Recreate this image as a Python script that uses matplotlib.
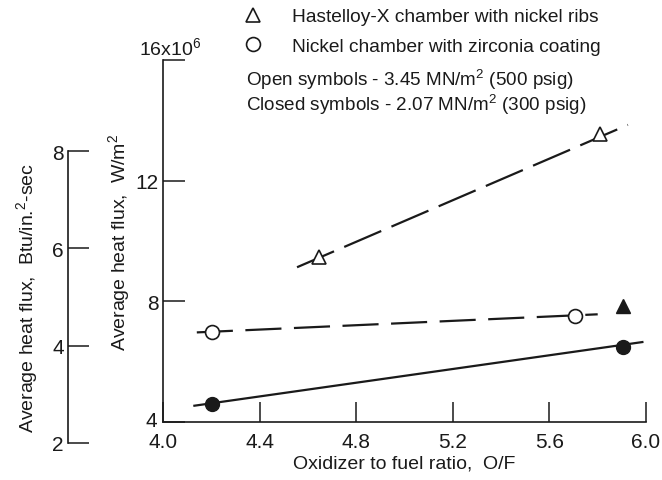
import matplotlib
matplotlib.use("Agg")
import matplotlib.pyplot as plt
import matplotlib.transforms as mtransforms
from matplotlib.lines import Line2D

# ---- data ----
of_ticks = [4.0, 4.4, 4.8, 5.2, 5.6, 6.0]
of_tick_labels = ["4.0", "4.4", "4.8", "5.2", "5.6", "6.0"]
si_ticks = [4, 8, 12, 16]
si_tick_labels = ["4", "8", "12", ""]
btu_ticks = [2, 4, 6, 8]
btu_tick_labels = ["2", "4", "6", "8"]

hast_open_x = [4.646, 5.81]
hast_open_y = [9.46, 13.54]
hast_fit_x = [4.555, 5.925]
hast_fit_y = [9.13, 13.85]
hast_closed_x = [5.905]
hast_closed_y = [7.84]

nick_open_x = [4.203, 5.706]
nick_open_y = [6.99, 7.51]
nick_open_fit_x = [4.14, 5.80]
nick_open_fit_y = [6.97, 7.57]
nick_closed_x = [4.203, 5.905]
nick_closed_y = [4.60, 6.49]
nick_closed_fit_x = [4.13, 5.985]
nick_closed_fit_y = [4.54, 6.65]

legend_labels = ["Hastelloy-X chamber with nickel ribs",
                 "Nickel chamber with zirconia coating"]
note_lines = ["Open symbols - 3.45 MN/m$^2$ (500 psig)",
              "Closed symbols - 2.07 MN/m$^2$ (300 psig)"]

# ---- fonts ----
plt.rcParams["font.family"] = ["Liberation Sans", "DejaVu Sans"]
plt.rcParams["mathtext.default"] = "regular"
plt.rcParams["lines.scale_dashes"] = False

INK = "#1a1a1a"
W, H = 662, 481
fig = plt.figure(figsize=(W / 100, H / 100), dpi=100)

def px_rect(x0, y_top, x1, y_bot):
    return [x0 / W, (H - y_bot) / H, (x1 - x0) / W, (y_bot - y_top) / H]

ax = fig.add_axes(px_rect(163, 61, 646, 423))
ax.set_xlim(4.0, 6.0)
ax.set_ylim(4, 16)
for s in ["top", "right"]:
    ax.spines[s].set_visible(False)
for s in ["left", "bottom"]:
    ax.spines[s].set_linewidth(1.2)
    ax.spines[s].set_color(INK)
ax.set_xticks(of_ticks)
ax.set_xticklabels(of_tick_labels)
ax.set_yticks(si_ticks)
ax.set_yticklabels(si_tick_labels)
ax.tick_params(axis="x", direction="in", length=14.5, width=1.1, color=INK,
               labelsize=15, labelcolor=INK, pad=7)
ax.tick_params(axis="y", direction="in", length=16, width=1.1, color=INK,
               labelsize=15, labelcolor=INK, pad=3)
# lowest y label sits slightly above the corner, as in the reference
ylbls = ax.get_yticklabels()
ylbls[0].set_transform(ylbls[0].get_transform() +
                       mtransforms.ScaledTranslation(-2 / 100, 3 / 100, fig.dpi_scale_trans))
ax.set_xlabel("Oxidizer to fuel ratio,  O/F", fontsize=14, color=INK, labelpad=3)
ax.set_ylabel("Average heat flux,  W/m$^2$", fontsize=14, color=INK, labelpad=3)
ax.patch.set_alpha(0)
ax.text(0.015, 1.004, "16x10$^6$", transform=ax.transAxes, ha="center", va="bottom",
        fontsize=14, color=INK)

lw = 1.6
ax.plot(hast_fit_x, hast_fit_y, color=INK, lw=lw, dashes=(29, 8))
ax.plot(nick_open_fit_x, nick_open_fit_y, color=INK, lw=lw, dashes=(26, 9))
ax.plot(nick_closed_fit_x, nick_closed_fit_y, color=INK, lw=lw)
ax.plot(hast_open_x, hast_open_y, ls="none", marker="^", ms=10, mfc="white",
        mec=INK, mew=1.2)
ax.plot(hast_closed_x, hast_closed_y, ls="none", marker="^", ms=10, mfc=INK, mec=INK)
ax.plot(nick_open_x, nick_open_y, ls="none", marker="o", ms=10, mfc="white",
        mec=INK, mew=1.2)
ax.plot(nick_closed_x, nick_closed_y, ls="none", marker="o", ms=10, mfc=INK, mec=INK)

# secondary (Btu) axis
ax2 = fig.add_axes(px_rect(68, 152, 70, 444))
ax2.set_ylim(2, 8)
ax2.set_xticks([])
for s in ["top", "right", "bottom"]:
    ax2.spines[s].set_visible(False)
ax2.spines["left"].set_linewidth(1.2)
ax2.spines["left"].set_color(INK)
ax2.set_yticks(btu_ticks)
ax2.set_yticklabels(btu_tick_labels)
ax2.tick_params(axis="y", direction="in", length=15, width=1.1, color=INK,
                labelsize=15, labelcolor=INK, pad=3)
ax2.patch.set_alpha(0)
ax2.set_ylabel("Average heat flux,  Btu/in.$^2$-sec", fontsize=14, color=INK,
               labelpad=9)

# legend
handles = [Line2D([], [], ls="none", marker="^", ms=10, mfc="white", mec=INK, mew=1.2),
           Line2D([], [], ls="none", marker="o", ms=10, mfc="white", mec=INK, mew=1.2)]
fig.legend(handles, legend_labels, loc="upper left",
           bbox_to_anchor=(241 / W, 1 - 9 / H), frameon=False, fontsize=13.8,
           handlelength=1.2, handletextpad=1.45, labelspacing=0.62,
           labelcolor=INK, borderpad=0, borderaxespad=0)
for i, t in enumerate(note_lines):
    fig.text(246 / W, 1 - (80 + 25 * i) / H, t, ha="left", va="center",
             fontsize=13.6, color=INK)

fig.savefig("out.png", dpi=100, facecolor="white")
